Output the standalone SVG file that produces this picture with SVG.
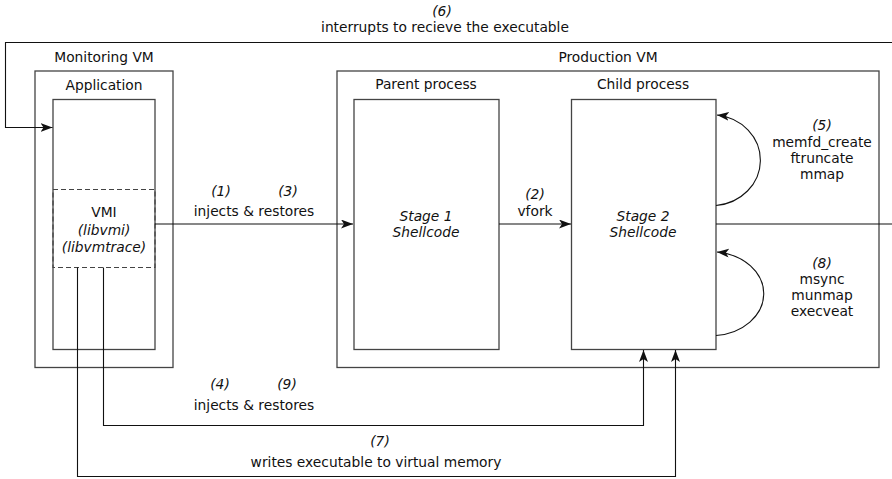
<svg xmlns="http://www.w3.org/2000/svg" width="892" height="479" viewBox="0 0 892 479">
  <style>
    .box { fill: #fff; stroke: #444; stroke-width: 1.3; }
    .dash { fill: none; stroke: #444; stroke-width: 1.2; stroke-dasharray: 5 3; }
    .conn { fill: none; stroke: #111; stroke-width: 1.1; }
    text { font-family: "DejaVu Sans", "Liberation Sans", sans-serif; font-size: 13.8px; fill: #111; text-anchor: middle; }
    .it { font-style: italic; }
  </style>
  <defs>
    <marker id="arrow" markerUnits="userSpaceOnUse" markerWidth="13" markerHeight="10" refX="12" refY="4.5" orient="auto">
      <path d="M0,0 L12,4.5 L0,9 L3,4.5 z" fill="#111"/>
    </marker>
  </defs>

  <g id="monitoring-vm">
    <rect class="box" x="35" y="71" width="138" height="296.5"/>
    <text x="104" y="62">Monitoring VM</text>
  </g>

  <g id="application">
    <rect class="box" x="53" y="99.5" width="102" height="250"/>
    <text x="104" y="90">Application</text>
  </g>

  <g id="vmi">
    <rect class="dash" x="53" y="189.5" width="102" height="78"/>
    <text x="104" y="217">VMI</text>
    <text class="it" x="104" y="235">(libvmi)</text>
    <text class="it" x="104" y="252">(libvmtrace)</text>
  </g>

  <g id="production-vm">
    <rect class="box" x="337" y="71" width="542" height="296.5"/>
    <text x="608" y="62">Production VM</text>
  </g>

  <g id="parent-process">
    <rect class="box" x="354" y="99.5" width="145" height="250"/>
    <text x="426" y="89">Parent process</text>
    <text class="it" x="426" y="221">Stage 1</text>
    <text class="it" x="426" y="237">Shellcode</text>
  </g>

  <g id="child-process">
    <rect class="box" x="571.5" y="99.5" width="144.5" height="250"/>
    <text x="643" y="89">Child process</text>
    <text class="it" x="643" y="221">Stage 2</text>
    <text class="it" x="643" y="237">Shellcode</text>
  </g>

  <g id="connectors">
    <!-- (1)(3) VMI injects into stage 1 -->
    <path class="conn" d="M155,224 H353" marker-end="url(#arrow)"/>
    <!-- (2) vfork -->
    <path class="conn" d="M499,224 H571" marker-end="url(#arrow)"/>
    <!-- (5) self loop -->
    <path class="conn" d="M716,205.5 A49 45.5 0 0 0 717,115" marker-end="url(#arrow)"/>
    <!-- (8) self loop -->
    <path class="conn" d="M716,335.5 A53 42 0 0 0 717,252" marker-end="url(#arrow)"/>
    <!-- (6) interrupt back to the monitoring application -->
    <path class="conn" d="M716,224 H905 V42.5 H5.5 V127.5 H52.5" marker-end="url(#arrow)"/>
    <!-- (4)(9) injects & restores into stage 2 -->
    <path class="conn" d="M103.5,267.5 V425.5 H643.5 V350" marker-end="url(#arrow)"/>
    <!-- (7) writes executable -->
    <path class="conn" d="M77.5,267.5 V476.5 H675.5 V350" marker-end="url(#arrow)"/>
  </g>

  <g id="labels">
    <text class="it" x="442" y="16">(6)</text>
    <text x="445" y="32">interrupts to recieve the executable</text>

    <text class="it" x="221" y="196">(1)</text>
    <text class="it" x="288" y="196">(3)</text>
    <text x="254" y="216">injects &amp; restores</text>

    <text class="it" x="535" y="199">(2)</text>
    <text x="535" y="216">vfork</text>

    <text class="it" x="822" y="130">(5)</text>
    <text x="822" y="147">memfd_create</text>
    <text x="822" y="163">ftruncate</text>
    <text x="822" y="179">mmap</text>

    <text class="it" x="822" y="268">(8)</text>
    <text x="822" y="284">msync</text>
    <text x="822" y="300">munmap</text>
    <text x="822" y="316">execveat</text>

    <text class="it" x="220" y="389">(4)</text>
    <text class="it" x="287" y="389">(9)</text>
    <text x="254" y="410">injects &amp; restores</text>

    <text class="it" x="380" y="446">(7)</text>
    <text x="376" y="467">writes executable to virtual memory</text>
  </g>
</svg>
